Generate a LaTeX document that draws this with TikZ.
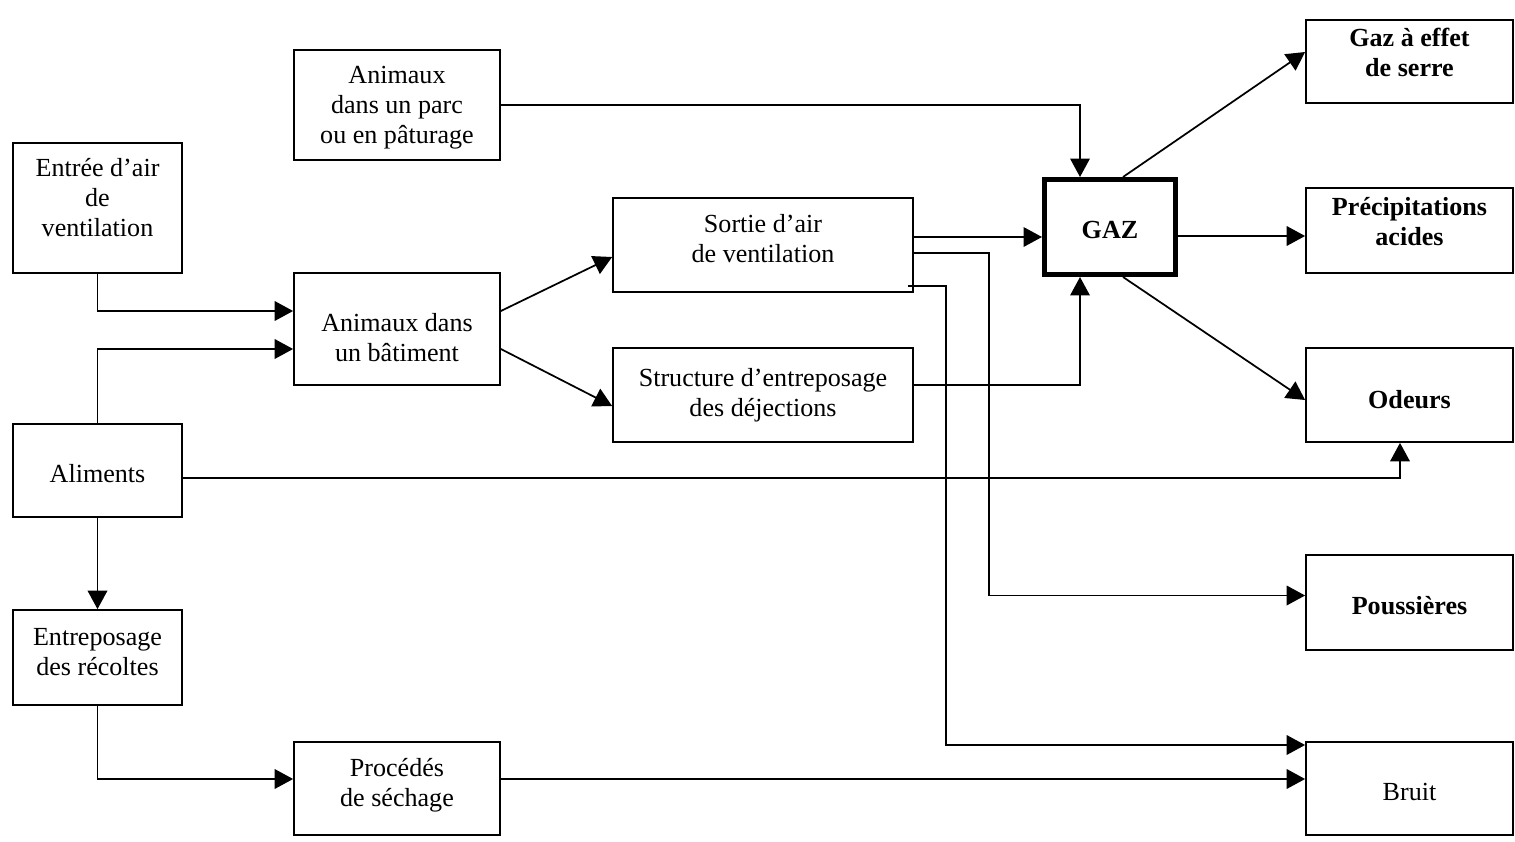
\documentclass[tikz,border=0pt]{standalone}
\usepackage{fontspec}
\setmainfont{Liberation Serif}
\usetikzlibrary{arrows.meta,calc}
\newdimen\pxu
\pxu=0.46pt

\tikzset{
  box/.style={draw, line width=0.8pt, inner sep=0pt},
  txt/.style={align=center, inner sep=0pt, font=\fontsize{12}{13.8}\selectfont},
  btxt/.style={txt, font=\fontsize{12}{13.8}\selectfont\bfseries},
  arr/.style={-{Triangle[length=8.5pt,width=9pt]}, line width=0.8pt},
}

\begin{document}
\begin{tikzpicture}[x=0.46pt, y=-0.46pt]
    \useasboundingbox (0,0) rectangle (1515,842);

    % Sources on the left
    \node[box, minimum width=169*\pxu, minimum height=130*\pxu,
      label={[txt, yshift=4.6pt]center:{Entrée d’air\\de\\ventilation}}] (entree) at (97.5,208) {};
    \node[box, minimum width=169*\pxu, minimum height=93*\pxu,
      label={[txt, yshift=-1.4pt]center:Aliments}] (aliments) at (97.5,470.5) {};
    \node[box, minimum width=169*\pxu, minimum height=95*\pxu,
      label={[txt, yshift=2.3pt]center:{Entreposage\\des récoltes}}] (recoltes) at (97.5,657.5) {};

    % Middle column
    \node[box, minimum width=206*\pxu, minimum height=110*\pxu,
      label={[txt, yshift=-1.4pt]center:{Animaux\\dans un parc\\ou en pâturage}}] (parc) at (397,105) {};
    \node[box, minimum width=206*\pxu, minimum height=112*\pxu,
      label={[txt, yshift=-4pt]center:{Animaux dans\\un bâtiment}}] (batiment) at (397,329) {};
    \node[box, minimum width=206*\pxu, minimum height=93*\pxu,
      label={[txt, yshift=1.4pt]center:{Procédés\\de séchage}}] (sechage) at (397,788.5) {};
    \node[box, minimum width=300*\pxu, minimum height=94*\pxu,
      label={[txt, yshift=2.8pt]center:{Sortie d’air\\de ventilation}}] (sortie) at (763,245) {};
    \node[box, minimum width=300*\pxu, minimum height=94*\pxu,
      label={[txt]center:{Structure d’entreposage\\des déjections}}] (dejections) at (763,395) {};

    % Gas
    \node[box, line width=2.3pt, minimum width=131*\pxu, minimum height=95*\pxu,
      label={[btxt, yshift=-1.4pt]center:GAZ}] (gaz) at (1110,227) {};

    % Effects on the right
    \node[box, minimum width=207*\pxu, minimum height=83*\pxu,
      label={[btxt, yshift=4pt]center:{Gaz à effet\\de serre}}] (serre) at (1409.5,61.5) {};
    \node[box, minimum width=207*\pxu, minimum height=85*\pxu,
      label={[btxt, yshift=4pt]center:{Précipitations\\acides}}] (acides) at (1409.5,230.5) {};
    \node[box, minimum width=207*\pxu, minimum height=94*\pxu,
      label={[btxt, yshift=-2.3pt]center:Odeurs}] (odeurs) at (1409.5,395) {};
    \node[box, minimum width=207*\pxu, minimum height=95*\pxu,
      label={[btxt, yshift=-1.4pt]center:Poussières}] (poussieres) at (1409.5,602.5) {};
    \node[box, minimum width=207*\pxu, minimum height=93*\pxu,
      label={[txt, yshift=-1.8pt]center:Bruit}] (bruit) at (1409.5,788.5) {};

    % Into the building
    \draw[arr] (entree.south) |- ($(batiment.west)+(0,-18)$);
    \draw[arr] (aliments.north) |- ($(batiment.west)+(0,20)$);
    \draw[arr] ($(batiment.east)+(0,-18)$) -- ($(sortie.west)+(0,12)$);
    \draw[arr] ($(batiment.east)+(0,20)$) -- ($(dejections.west)+(0,11)$);

    % Towards GAZ
    \draw[arr] (parc.east) -| ($(gaz.north)+(-30,0)$);
    \draw[arr] ($(sortie.east)+(0,-8)$) coordinate (s1) -- (s1 -| gaz.west);
    \draw[arr] ($(dejections.east)+(0,-10)$) -| ($(gaz.south)+(-30,0)$);

    % Out of GAZ
    \draw[arr] ($(gaz.north)+(13,0)$) -- ($(serre.west)+(0,-9.5)$);
    \draw[arr] ($(gaz.east)+(0,9)$) coordinate (g1) -- (g1 -| acides.west);
    \draw[arr] ($(gaz.south)+(13,0)$) -- ($(odeurs.west)+(0,5)$);

    % Dust and noise
    \draw[arr] ($(sortie.east)+(0,8)$) -- ++(75,0) |- ($(poussieres.west)+(0,-7)$);
    \draw[arr] ($(sortie.south east)+(-6,-7)$) -- ++(38,0) |- ($(bruit.west)+(0,-43.5)$);

    % Feed and crops
    \draw[arr] ($(aliments.east)+(0,7.5)$) -| ($(odeurs.south)+(-9.5,0)$);
    \draw[arr] (aliments.south) -- (recoltes.north);
    \draw[arr] (recoltes.south) |- ($(sechage.west)+(0,-9.5)$);
    \draw[arr] ($(sechage.east)+(0,-9.5)$) coordinate (d1) -- (d1 -| bruit.west);
\end{tikzpicture}
\end{document}
